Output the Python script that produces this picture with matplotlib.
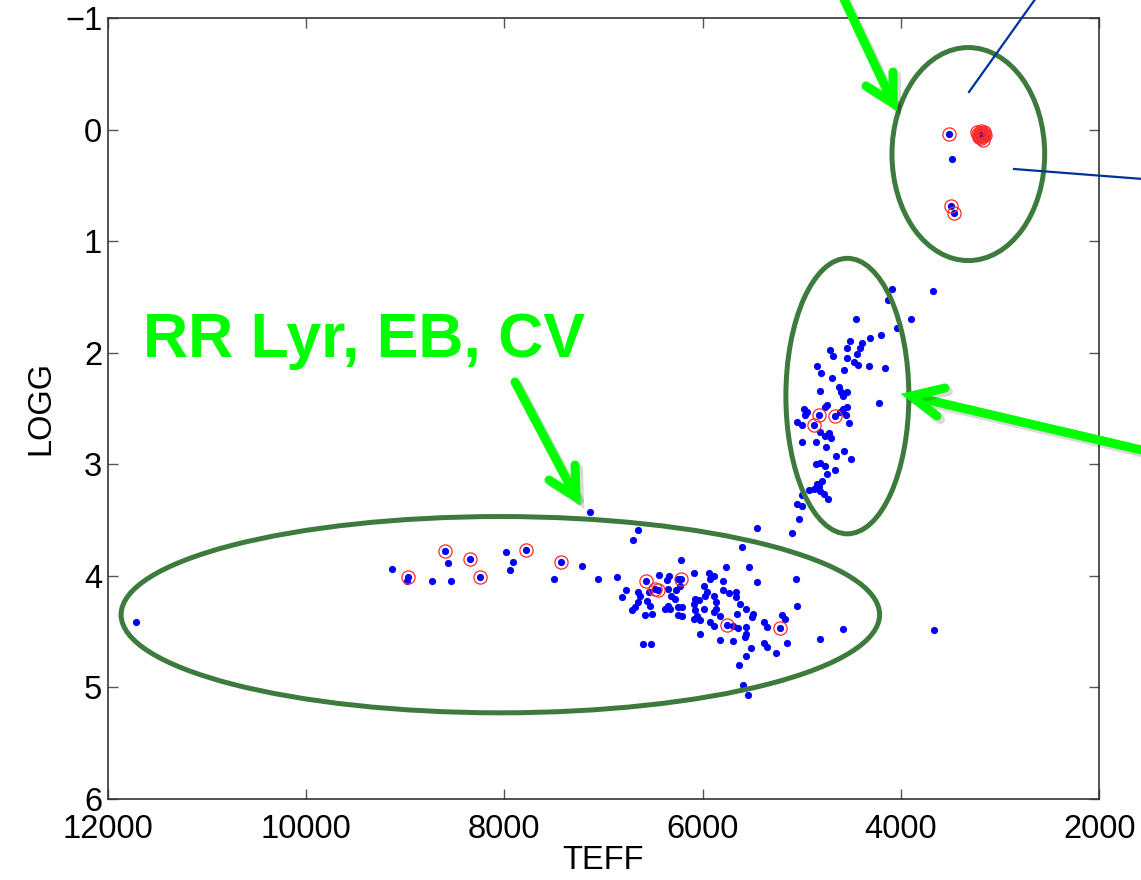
import numpy as np
import matplotlib
matplotlib.use('Agg')
import matplotlib.pyplot as plt
from matplotlib.patches import Ellipse
from matplotlib.lines import Line2D
import matplotlib.patheffects as pe

plt.rcParams['font.family'] = ['Liberation Sans', 'DejaVu Sans']

# all targets (blue dots)
teff_all = [
    11710, 9130, 8980, 8970, 8730, 8600, 8570, 8540, 8350, 8250, 7980, 7910, 7940, 7780,
    7500, 7430, 7220, 7060, 7140, 6860, 6810, 6770, 6700, 6650, 6600, 6520, 6570, 6480,
    6450, 6220, 6220, 6090, 6030, 5820, 5690, 5760, 5530, 5600, 5450, 5050, 5060, 4820,
    4580, 5750, 5220, 5510, 5560, 5380, 5350, 5260, 5150, 5630, 5590, 5540, 3670, 5100,
    6440, 6340, 6360, 6250, 6650, 6630, 6540, 6560, 6530, 6650, 6680, 6710, 6580, 6510,
    6350, 6320, 6280, 6350, 6330, 6380, 6250, 6210, 6250, 6210, 6230, 6270,
    5940, 5890, 5930, 5790, 5450, 5990, 5960, 5980, 5890, 6080, 6040, 6090, 5860, 5790,
    5730, 5660, 5660, 5620, 5560, 5490, 5500, 5860, 5880, 5990, 6080, 6060, 6090, 6030,
    5930, 5880, 5820, 5650, 5690, 5640, 5560, 5560, 5570, 5380, 5350, 5200, 5170,
    4090, 3680, 4130, 4450, 3900, 4040, 4200, 4310, 4390, 4510, 4540, 4410, 4720, 4680,
    4440, 4540, 4470, 4430, 4320, 4160, 4850, 4810, 4570, 4690, 4620, 4600, 4540, 4580,
    4820, 4220, 4750, 4770, 4980, 4950, 4970, 4580, 4540, 4550, 4610, 4830, 4660, 4880,
    5050, 5000, 4520, 4820, 4730, 4710, 4770, 5000, 4860, 4760, 4570, 4650, 4500, 4860,
    4820, 4770, 4660, 4750, 4800, 4850, 4880, 4820, 4830, 4930, 4780, 4740, 5000, 5050,
    5000, 5030,
    3510, 3480, 3490, 3460, 3190,
]
logg_all = [
    4.42, 3.94, 4.05, 4.01, 4.05, 3.78, 3.89, 4.05, 3.85, 4.01, 3.79, 3.88, 3.95, 3.77,
    4.03, 3.88, 3.91, 4.03, 3.43, 4.01, 4.19, 4.13, 3.68, 3.59, 4.61, 4.61, 4.05, 4.12,
    4.13, 3.86, 4.03, 3.98, 4.52, 4.58, 4.59, 3.92, 3.92, 3.74, 3.57, 4.27, 4.03, 4.57,
    4.48, 4.44, 4.47, 4.65, 4.72, 4.60, 4.64, 4.69, 4.60, 4.80, 4.98, 5.07, 4.49, 3.62,
    3.99, 4.00, 4.04, 4.03, 4.15, 4.18, 4.15, 4.23, 4.27, 4.24, 4.28, 4.31, 4.35, 4.34,
    4.12, 4.18, 4.21, 4.27, 4.30, 4.30, 4.28, 4.28, 4.35, 4.36, 4.09, 4.13,
    3.98, 4.00, 4.03, 4.05, 4.06, 4.09, 4.15, 4.18, 4.18, 4.21, 4.22, 4.25, 4.24, 4.13,
    4.16, 4.15, 4.19, 4.25, 4.30, 4.34, 4.37, 4.30, 4.33, 4.30, 4.31, 4.36, 4.39, 4.40,
    4.42, 4.45, 4.36, 4.34, 4.45, 4.47, 4.46, 4.52, 4.55, 4.42, 4.46, 4.35, 4.39,
    1.43, 1.45, 1.53, 1.70, 1.70, 1.78, 1.84, 1.87, 1.91, 1.90, 1.96, 1.96, 1.98, 2.03,
    2.01, 2.05, 2.08, 2.11, 2.12, 2.14, 2.12, 2.18, 2.16, 2.23, 2.31, 2.35, 2.35, 2.39,
    2.34, 2.45, 2.47, 2.49, 2.51, 2.53, 2.56, 2.51, 2.49, 2.56, 2.53, 2.56, 2.57, 2.65,
    2.62, 2.65, 2.63, 2.71, 2.72, 2.77, 2.75, 2.80, 2.80, 2.85, 2.88, 2.93, 2.95, 3.00,
    2.99, 3.02, 3.05, 3.09, 3.15, 3.18, 3.22, 3.24, 3.20, 3.23, 3.27, 3.31, 3.28, 3.36,
    3.38, 3.49,
    0.04, 0.26, 0.69, 0.75, 0.05,
]

# known variables (red rings)
teff_var = [
    8970, 8600, 8350, 8250, 7780, 7430, 6570, 6480, 6450, 6220, 5750, 5220,
    4830, 4660, 4880, 3510, 3490, 3460,
    3200, 3180, 3160, 3210, 3190, 3170, 3220, 3150, 3230, 3195, 3175, 3205,
    3185, 3215, 3165, 3200,
]
logg_var = [
    4.01, 3.78, 3.85, 4.01, 3.77, 3.88, 4.05, 4.12, 4.13, 4.03, 4.44, 4.47,
    2.56, 2.57, 2.65, 0.04, 0.69, 0.75,
    0.03, 0.05, 0.02, 0.06, 0.08, 0.06, 0.04, 0.05, 0.02, 0.01, 0.09, 0.05,
    0.03, 0.07, 0.04, 0.06,
]

# group outlines: centre teff, centre logg, width, height
groups_teff = [3320, 4540, 8040]
groups_logg = [0.22, 2.39, 4.35]
groups_w = [1540, 1240, 7650]
groups_h = [1.91, 2.47, 1.76]

W, H = 1141, 880
fig = plt.figure(figsize=(W / 100, H / 100), dpi=100)
ax = fig.add_axes([107.7 / W, 1 - 798.7 / H, (1099.2 - 107.7) / W, (798.7 - 18) / H])

ax.plot(teff_all, logg_all, 'o', color='#0000ff', markersize=5.2, markeredgewidth=0, zorder=3)
ax.plot(teff_var, logg_var, 'o', markerfacecolor='none', markeredgecolor='#ff2a2a',
        markersize=9.5, markeredgewidth=0.9, zorder=4)

for cx, cy, w, h in zip(groups_teff, groups_logg, groups_w, groups_h):
    ax.add_patch(Ellipse((cx, cy), w, h, fill=False, edgecolor='#3d7b3d', linewidth=3.6,
                         zorder=5))

ax.set_xlim(12000, 2000)
ax.set_ylim(6, -1)
ax.set_xticks(np.arange(12000, 1999, -2000))
ax.set_yticks(np.arange(-1, 7, 1))
ax.yaxis.set_major_formatter(plt.FuncFormatter(lambda v, p: '\u2212%d' % -v if v < 0 else '%d' % v))
ax.tick_params(direction='in', length=7, width=1, colors='#555555', labelcolor='black',
               labelsize=23.5, top=True, right=True, pad=4)
ax.tick_params(axis='x', pad=11)
for s in ax.spines.values():
    s.set_color('#333333')
    s.set_linewidth(1.2)
ax.set_xlabel('TEFF', fontsize=23.5, labelpad=0)
ax.set_ylabel('LOGG', fontsize=23.5, labelpad=6)


def px(pts):
    xs = [p[0] / W for p in pts]
    ys = [1 - p[1] / H for p in pts]
    return xs, ys


shadow = [pe.SimpleLineShadow(offset=(2.5, -2.5), shadow_color='#000000', alpha=0.15),
          pe.Normal()]


def green_arrow(tail, tip, arm1, arm2):
    for seg in ([tail, tip], [arm1, tip, arm2]):
        xs, ys = px(seg)
        ln = Line2D(xs, ys, transform=fig.transFigure, color='#00ff00', linewidth=6.5,
                    solid_capstyle='round', solid_joinstyle='miter', zorder=10,
                    path_effects=shadow)
        fig.add_artist(ln)


green_arrow((842, -5), (893, 103), (893, 72), (866, 86))
green_arrow((515, 382), (576, 497), (575, 465), (549, 480))
green_arrow((1150, 452), (911, 396), (945, 388), (937, 416))

for seg in ([(969, 92), (1036, -2)], [(1014, 169), (1143, 179)]):
    xs, ys = px(seg)
    fig.add_artist(Line2D(xs, ys, transform=fig.transFigure, color='#003399',
                          linewidth=1.6, zorder=10))

fig.text(143 / W, 1 - 357 / H, 'RR Lyr, EB, CV', color='#00ff00', fontsize=45,
         fontweight='bold', va='baseline', ha='left')

fig.savefig('out.png', dpi=100)
